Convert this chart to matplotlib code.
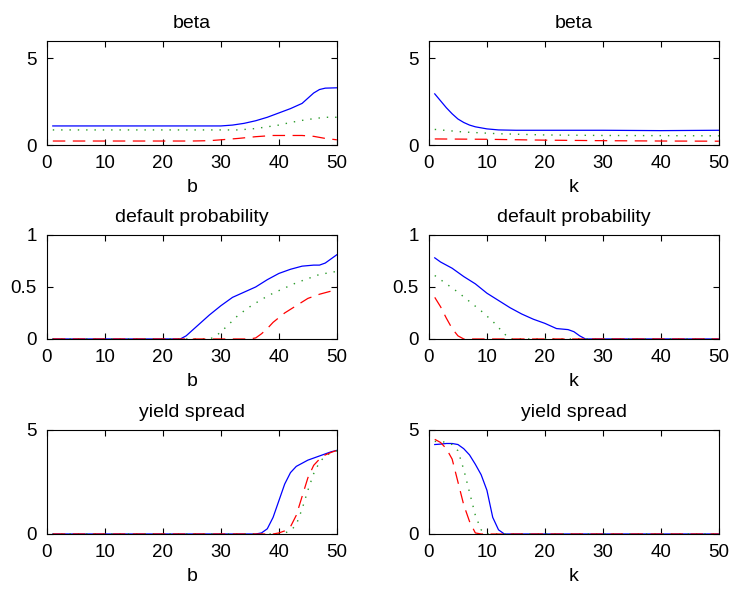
import matplotlib
matplotlib.use("Agg")
import matplotlib.pyplot as plt

plt.rcParams['font.family'] = ['Liberation Sans', 'DejaVu Sans']
plt.rcParams['font.size'] = 13

# beta vs b
beta_b_blue_x = [1, 5, 10, 15, 20, 25, 30, 32, 34, 36, 38, 40, 42, 44, 45, 46, 47, 48, 50]
beta_b_blue_y = [1.1, 1.1, 1.1, 1.1, 1.1, 1.1, 1.1, 1.15, 1.25, 1.4, 1.6, 1.85, 2.1, 2.4, 2.7, 3.0, 3.2, 3.28, 3.3]
beta_b_green_x = [1, 10, 20, 30, 33, 36, 38, 40, 42, 44, 46, 48, 50]
beta_b_green_y = [0.87, 0.87, 0.87, 0.87, 0.87, 0.95, 1.05, 1.15, 1.3, 1.42, 1.52, 1.6, 1.6]
beta_b_red_x = [1, 10, 20, 25, 28, 30, 33, 36, 39, 42, 44, 46, 48, 50]
beta_b_red_y = [0.23, 0.23, 0.23, 0.23, 0.25, 0.3, 0.38, 0.48, 0.55, 0.55, 0.55, 0.5, 0.38, 0.3]

# beta vs k
beta_k_blue_x = [1, 2, 3, 4, 5, 6, 7, 8, 10, 12, 15, 20, 30, 40, 50]
beta_k_blue_y = [2.95, 2.55, 2.15, 1.8, 1.5, 1.3, 1.15, 1.05, 0.93, 0.87, 0.85, 0.85, 0.85, 0.83, 0.85]
beta_k_green_x = [1, 6, 12, 20, 30, 50]
beta_k_green_y = [0.9, 0.75, 0.65, 0.58, 0.55, 0.53]
beta_k_red_x = [1, 10, 20, 30, 40, 50]
beta_k_red_y = [0.35, 0.33, 0.28, 0.25, 0.23, 0.22]

# default probability vs b
dp_b_blue_x = [1, 10, 20, 23, 24, 26, 28, 30, 32, 34, 36, 38, 40, 42, 44, 46, 47, 48, 49, 50]
dp_b_blue_y = [0, 0, 0, 0, 0.03, 0.13, 0.23, 0.32, 0.4, 0.45, 0.5, 0.57, 0.63, 0.67, 0.7, 0.71, 0.71, 0.73, 0.77, 0.81]
dp_b_green_x = [1, 28, 29, 31, 33, 35, 37, 39, 41, 43, 45, 47, 50]
dp_b_green_y = [0, 0, 0.02, 0.12, 0.23, 0.31, 0.38, 0.44, 0.49, 0.54, 0.58, 0.62, 0.65]
dp_b_red_x = [1, 35, 36, 37, 38, 39, 41, 43, 45, 47, 49, 50]
dp_b_red_y = [0, 0, 0.01, 0.05, 0.1, 0.16, 0.25, 0.32, 0.39, 0.43, 0.46, 0.5]

# default probability vs k
dp_k_blue_x = [1, 2, 4, 6, 8, 10, 12, 14, 16, 18, 20, 22, 24, 25, 26, 27, 30, 40, 50]
dp_k_blue_y = [0.78, 0.74, 0.68, 0.6, 0.53, 0.44, 0.37, 0.3, 0.24, 0.19, 0.15, 0.1, 0.09, 0.07, 0.03, 0, 0, 0, 0]
dp_k_green_x = [1, 3, 5, 7, 9, 11, 12, 13, 14, 50]
dp_k_green_y = [0.61, 0.53, 0.45, 0.36, 0.27, 0.17, 0.11, 0.05, 0, 0]
dp_k_red_x = [1, 2, 3, 4, 5, 6, 50]
dp_k_red_y = [0.4, 0.31, 0.2, 0.1, 0.03, 0, 0]

# yield spread vs b
ys_b_blue_x = [1, 10, 20, 30, 36, 37, 38, 39, 40, 41, 42, 43, 44, 45, 46, 47, 48, 49, 50]
ys_b_blue_y = [0, 0, 0, 0, 0, 0.05, 0.25, 0.8, 1.6, 2.4, 2.95, 3.25, 3.4, 3.55, 3.65, 3.75, 3.85, 3.95, 4.02]
ys_b_green_x = [1, 40, 41, 42, 43, 44, 45, 46, 47, 48, 49, 50]
ys_b_green_y = [0, 0, 0.05, 0.15, 0.45, 1.2, 2.1, 2.9, 3.45, 3.75, 3.9, 4.0]
ys_b_red_x = [1, 39, 40, 41, 42, 43, 44, 45, 46, 47, 48, 49, 50]
ys_b_red_y = [0, 0, 0.05, 0.15, 0.35, 0.9, 1.8, 2.7, 3.3, 3.6, 3.8, 3.92, 4.02]

# yield spread vs k
ys_k_blue_x = [1, 2, 3, 4, 5, 6, 7, 8, 9, 10, 11, 12, 13, 50]
ys_k_blue_y = [4.3, 4.32, 4.35, 4.35, 4.3, 4.1, 3.8, 3.35, 2.85, 2.1, 0.8, 0.2, 0, 0]
ys_k_green_x = [1, 2, 3, 4, 5, 6, 7, 8, 9, 10, 50]
ys_k_green_y = [4.45, 4.45, 4.4, 4.3, 4.0, 3.1, 2.0, 0.9, 0.2, 0, 0]
ys_k_red_x = [1, 2, 3, 4, 5, 6, 7, 8, 9, 50]
ys_k_red_y = [4.55, 4.4, 4.1, 3.6, 2.5, 1.4, 0.6, 0.05, 0, 0]

panels = [
    ("beta", "b", (0, 6), [0, 5], ["0", "5"],
     [(beta_b_blue_x, beta_b_blue_y), (beta_b_green_x, beta_b_green_y), (beta_b_red_x, beta_b_red_y)]),
    ("beta", "k", (0, 6), [0, 5], ["0", "5"],
     [(beta_k_blue_x, beta_k_blue_y), (beta_k_green_x, beta_k_green_y), (beta_k_red_x, beta_k_red_y)]),
    ("default probability", "b", (0, 1), [0, 0.5, 1], ["0", "0.5", "1"],
     [(dp_b_blue_x, dp_b_blue_y), (dp_b_green_x, dp_b_green_y), (dp_b_red_x, dp_b_red_y)]),
    ("default probability", "k", (0, 1), [0, 0.5, 1], ["0", "0.5", "1"],
     [(dp_k_blue_x, dp_k_blue_y), (dp_k_green_x, dp_k_green_y), (dp_k_red_x, dp_k_red_y)]),
    ("yield spread", "b", (0, 5), [0, 5], ["0", "5"],
     [(ys_b_blue_x, ys_b_blue_y), (ys_b_green_x, ys_b_green_y), (ys_b_red_x, ys_b_red_y)]),
    ("yield spread", "k", (0, 5), [0, 5], ["0", "5"],
     [(ys_k_blue_x, ys_k_blue_y), (ys_k_green_x, ys_k_green_y), (ys_k_red_x, ys_k_red_y)]),
]

# solid blue, dotted green, long-dash red
styles = [
    dict(color="#0000ff", linestyle="-", linewidth=0.9),
    dict(color="#2a9a2a", linestyle=(0, (1, 5)), linewidth=1.0),
    dict(color="#ff0000", linestyle=(0, (10, 6)), linewidth=0.9),
]

fig = plt.figure(figsize=(7.32, 5.89), dpi=100)

lefts = [0.0642, 0.586]
bottoms = [0.7538, 0.4245, 0.0934]
w, h = 0.396, 0.1766

for i, (title, xlab, ylim, yt, ytl, series) in enumerate(panels):
    ax = fig.add_axes([lefts[i % 2], bottoms[i // 2], w, h])
    for (xs, ys), st in zip(series, styles):
        ax.plot(xs, ys, **st)
    ax.set_xlim(0, 50)
    ax.set_ylim(*ylim)
    ax.set_xticks([0, 10, 20, 30, 40, 50])
    ax.set_yticks(yt)
    ax.set_yticklabels(ytl)
    ax.tick_params(direction="in", length=4, top=True, right=True, labelsize=13.5, pad=7.5)
    ax.set_title(title, fontsize=14, pad=9)
    ax.set_xlabel(xlab, fontsize=14, labelpad=5)
    for sp in ax.spines.values():
        sp.set_linewidth(0.8)

fig.savefig("out.png", dpi=100)
